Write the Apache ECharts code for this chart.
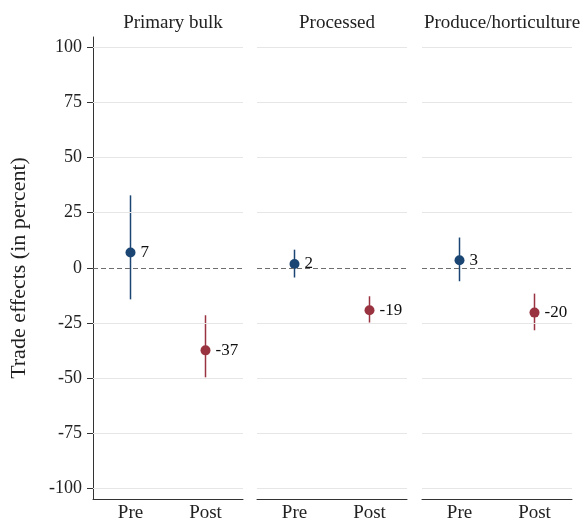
<!DOCTYPE html>
<html><head><meta charset="utf-8">
<script src="https://cdn.jsdelivr.net/npm/echarts@6/dist/echarts.min.js"></script>
<style>html,body{margin:0;padding:0;background:#fff}#c{width:584px;height:529px}</style>
</head><body><div id="c"></div>
<script>
const panels = ["Primary bulk", "Processed", "Produce/horticulture"];
const periods = ["Pre", "Post"];
const estimates = [[6.9, -37.4], [1.7, -19.2], [3.4, -20.3]];
const lower = [[-14.3, -49.6], [-4.4, -24.8], [-6.1, -28.3]];
const upper = [[32.8, -21.5], [8.2, -12.9], [13.7, -11.7]];
const pointLabels = [["7", "-37"], ["2", "-19"], ["3", "-20"]];
const yTicks = [-100, -75, -50, -25, 0, 25, 50, 75, 100];
const yTitle = "Trade effects (in percent)";

const FONT = "Liberation Serif";
const colors = ["#1b4674", "#993340"];
const gridLefts = [93, 257, 422];
const gridW = 150;

const grids = [], xAxes = [], yAxes = [], series = [], titles = [];
panels.forEach((p, i) => {
  grids.push({left: gridLefts[i], width: gridW, top: 37, bottom: 30, containLabel: false});
  titles.push({text: p, left: gridLefts[i] + gridW / 2, top: 9, textAlign: 'center',
    textStyle: {fontFamily: FONT, fontSize: 19, fontWeight: 'normal', color: '#222'}});
  xAxes.push({type: 'category', gridIndex: i, data: periods, boundaryGap: true,
    axisLine: {onZero: false, lineStyle: {color: '#333', width: 1}},
    axisTick: {alignWithLabel: true, length: 5, lineStyle: {color: '#333'}},
    axisLabel: {fontFamily: FONT, fontSize: 19, color: '#222', margin: 5},
    splitLine: {show: false}});
  yAxes.push({type: 'value', gridIndex: i, min: -104.7, max: 104.5,
    name: i === 0 ? yTitle : '', nameLocation: 'middle', nameGap: 63,
    nameTextStyle: {fontFamily: FONT, fontSize: 22, color: '#222'},
    axisLine: {show: i === 0, lineStyle: {color: '#333'}},
    axisTick: {show: i === 0, customValues: yTicks, length: 6, lineStyle: {color: '#333'}},
    axisLabel: {show: i === 0, customValues: yTicks, fontFamily: FONT, fontSize: 18, color: '#222', margin: 11},
    splitLine: {show: false}});
  // gridlines and zero line
  series.push({type: 'line', xAxisIndex: i, yAxisIndex: i, data: [], silent: true,
    markLine: {silent: true, symbol: 'none', label: {show: false}, animation: false,
      lineStyle: {color: '#e6e6e6', width: 1, type: 'solid'},
      data: yTicks.filter(v => v !== 0).map(v => ({yAxis: v}))}});
  series.push({type: 'line', xAxisIndex: i, yAxisIndex: i, data: [], silent: true,
    markLine: {silent: true, symbol: 'none', label: {show: false}, animation: false,
      lineStyle: {color: '#6e6e6e', width: 1.2, type: [5, 3]},
      data: [{yAxis: 0}]}});
  // error bars
  series.push({type: 'custom', xAxisIndex: i, yAxisIndex: i, animation: false,
    data: periods.map((c, k) => [k, lower[i][k], upper[i][k]]),
    renderItem: (params, api) => {
      const k = api.value(0);
      const a = api.coord([k, api.value(1)]);
      const b = api.coord([k, api.value(2)]);
      return {type: 'line', shape: {x1: a[0], y1: a[1], x2: b[0], y2: b[1]},
        style: {stroke: colors[k], lineWidth: 1.5}};
    }, z: 3});
  // points
  series.push({type: 'scatter', xAxisIndex: i, yAxisIndex: i, animation: false,
    symbolSize: 10, z: 4,
    data: periods.map((c, k) => ({value: [k, estimates[i][k]], itemStyle: {color: colors[k], opacity: 1},
      label: {formatter: pointLabels[i][k]}})),
    itemStyle: {opacity: 1},
    label: {show: true, position: 'right', distance: 5, fontFamily: FONT, fontSize: 17, color: '#111'}});
});

const chart = echarts.init(document.getElementById('c'), null, {renderer: 'canvas'});
chart.setOption({backgroundColor: '#fff', animation: false, title: titles, grid: grids,
  xAxis: xAxes, yAxis: yAxes, series: series});
</script></body></html>
